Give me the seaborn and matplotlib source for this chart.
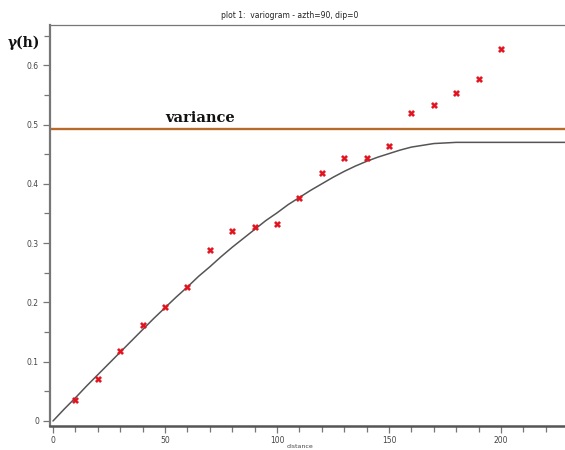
import matplotlib
matplotlib.use("Agg")
import matplotlib.pyplot as plt
import seaborn as sns
import pandas as pd
from matplotlib.ticker import MultipleLocator

# experimental variogram points (lag, gamma)
lags = [10, 20, 30, 40, 50, 60, 70, 80, 90, 100,
        110, 120, 130, 140, 150, 160, 170, 180, 190, 200]
gamma = [0.035, 0.070, 0.118, 0.162, 0.193, 0.226, 0.288, 0.320, 0.327, 0.333,
         0.376, 0.419, 0.443, 0.443, 0.464, 0.519, 0.533, 0.553, 0.577, 0.628]

# fitted model curve
model_h = [0, 5, 10, 15, 20, 25, 30, 35, 40, 45, 50, 55, 60, 65, 70, 75, 80, 85,
           90, 95, 100, 105, 110, 115, 120, 125, 130, 135, 140, 145, 150, 155,
           160, 165, 170, 175, 180, 230]
model_g = [0.0, 0.020, 0.039, 0.059, 0.078, 0.097, 0.116, 0.135, 0.154, 0.173,
           0.191, 0.209, 0.226, 0.244, 0.260, 0.277, 0.293, 0.308, 0.323, 0.338,
           0.351, 0.365, 0.377, 0.389, 0.400, 0.411, 0.421, 0.430, 0.438, 0.445,
           0.451, 0.457, 0.462, 0.465, 0.468, 0.469, 0.470, 0.470]

variance = 0.492

sns.set_style("white")

pts = pd.DataFrame({"lag": lags, "gamma": gamma})
mdl = pd.DataFrame({"h": model_h, "g": model_g})

fig = plt.figure(figsize=(5.65, 4.5), dpi=100)
ax = fig.add_axes([50 / 565, 1 - 426 / 450, 1 - 50 / 565, (426 - 25) / 450])

sns.lineplot(data=mdl, x="h", y="g", ax=ax, color="#555555", linewidth=1.1)
ax.axhline(variance, color="#b86a2a", linewidth=1.7)
sns.scatterplot(data=pts, x="lag", y="gamma", ax=ax, marker="X", color="#e0141e",
                s=22, edgecolor="#e0141e", linewidth=0.2, zorder=5)

ax.set_xlim(-1.34, 228.6)
ax.set_ylim(-0.0085, 0.668)
ax.set_xlabel("")
ax.set_ylabel("")

ax.xaxis.set_major_locator(MultipleLocator(50))
ax.xaxis.set_minor_locator(MultipleLocator(10))
ax.yaxis.set_major_locator(MultipleLocator(0.1))
ax.yaxis.set_minor_locator(MultipleLocator(0.05))
ax.set_xticks([0, 50, 100, 150, 200])
ax.set_xticklabels(["0", "50", "100", "150", "200"])
ax.set_yticks([0, 0.1, 0.2, 0.3, 0.4, 0.5, 0.6])
ax.set_yticklabels(["0", "0.1", "0.2", "0.3", "0.4", "0.5", "0.6"])

ax.tick_params(axis="both", which="both", direction="out", colors="#777777",
               labelcolor="#444444", labelsize=5.5, width=0.9)
ax.tick_params(axis="both", which="major", length=5)
ax.tick_params(axis="both", which="minor", length=4)
ax.tick_params(axis="x", which="both", bottom=True, pad=2)
ax.tick_params(axis="y", which="both", left=True, pad=3)

ax.spines["left"].set_color("#777777")
ax.spines["left"].set_linewidth(1.6)
ax.spines["bottom"].set_color("#555555")
ax.spines["bottom"].set_linewidth(1.8)
ax.spines["top"].set_color("#777777")
ax.spines["top"].set_linewidth(0.9)
ax.spines["right"].set_visible(False)

ax.text(50, 0.505, "variance", fontsize=10.5, fontweight="bold",
        family="DejaVu Serif", color="#111111")

fig.text(290 / 565, 1 - 16 / 450, "plot 1:  variogram - azth=90, dip=0",
         ha="center", va="center", fontsize=5.5, color="#222222")
fig.text(8 / 565, 1 - 43 / 450, "γ(h)", ha="left", va="center", fontsize=10,
         fontweight="bold", family="DejaVu Serif", color="#111111")
fig.text(300 / 565, 0.5 / 450, "distance", ha="center", va="bottom",
         fontsize=4.5, color="#444444")

fig.savefig("out.png", dpi=100)
